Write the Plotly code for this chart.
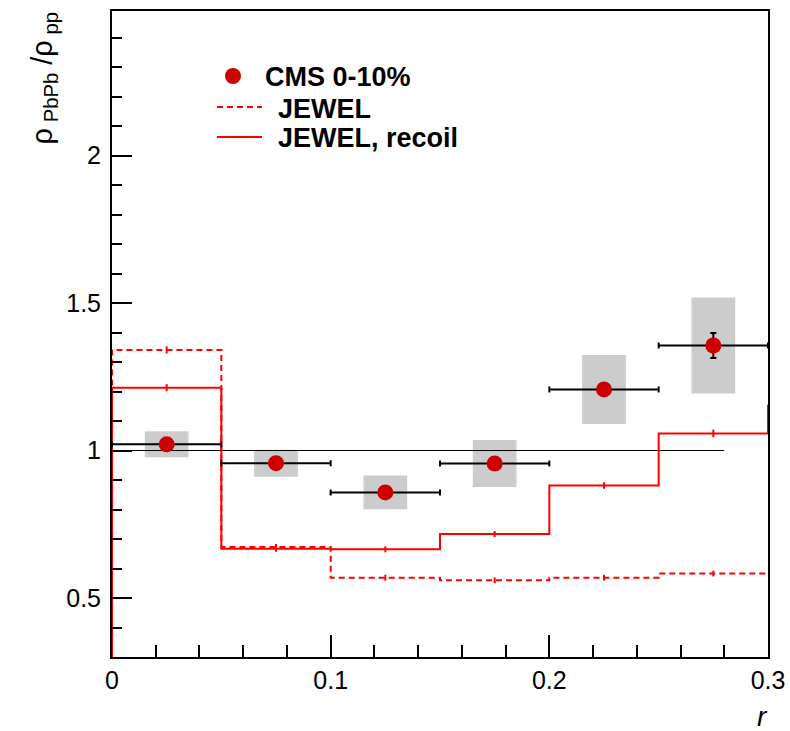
import plotly.graph_objects as go

# ---- data ----
r_centers = [0.025, 0.075, 0.125, 0.175, 0.225, 0.275]
r_halfwidth = [0.025] * 6
cms_ratio = [1.021, 0.957, 0.858, 0.956, 1.207, 1.356]
cms_stat = [0.010, 0.010, 0.010, 0.010, 0.012, 0.042]
cms_sys = [0.044, 0.046, 0.057, 0.080, 0.117, 0.163]
sys_box_width = 0.02

bin_edges = [0.0, 0.05, 0.10, 0.15, 0.20, 0.25, 0.30]
jewel = [1.341, 0.673, 0.569, 0.560, 0.569, 0.583]
jewel_err = [0.012, 0.010, 0.010, 0.010, 0.010, 0.010]
jewel_next = 0.583
jewel_recoil = [1.213, 0.667, 0.665, 0.717, 0.881, 1.058]
jewel_recoil_err = [0.012, 0.010, 0.010, 0.010, 0.011, 0.013]
jewel_recoil_next = 1.155

ref_x = [0.0, 0.28]
ref_y = [1.0, 1.0]

x_range = [0.0, 0.3]
y_range = [0.3, 2.49]

RED = "#ff0000"
DARKRED = "#cc0000"
FONT = "Liberation Sans, Arial, Helvetica, sans-serif"

W, H = 790, 731
ML, MR, MT, MB = 112, 22, 11, 74
PW, PH = W - ML - MR, H - MT - MB


def px(xp):
    return (xp - ML) / PW


def py(yp):
    return (H - MB - yp) / PH


def step_path(edges, vals, nxt, floor):
    xs = [edges[0]] + list(edges)
    ys = [floor] + list(vals) + [nxt]
    return xs, ys


fig = go.Figure()

# reference line at 1
fig.add_trace(go.Scatter(x=ref_x, y=ref_y, mode="lines",
                         line=dict(color="black", width=1), showlegend=False,
                         hoverinfo="skip"))

# systematic boxes
fig.add_trace(go.Bar(x=r_centers, y=[2 * s for s in cms_sys],
                     base=[v - s for v, s in zip(cms_ratio, cms_sys)],
                     width=sys_box_width, marker=dict(color="#cccccc", line=dict(width=0)),
                     showlegend=False, hoverinfo="skip"))

# JEWEL dashed
xs, ys = step_path(bin_edges, jewel, jewel_next, 0.0)
fig.add_trace(go.Scatter(x=xs, y=ys, mode="lines", line_shape="hv",
                         line=dict(color=RED, width=2, dash="6px,4px"),
                         showlegend=False, hoverinfo="skip"))
centers_h = [(a + b) / 2 for a, b in zip(bin_edges[:-1], bin_edges[1:])]
fig.add_trace(go.Scatter(x=centers_h, y=jewel, mode="markers",
                         marker=dict(size=0.1, color=RED, opacity=0),
                         error_y=dict(type="data", array=jewel_err, color=RED,
                                      thickness=2, width=0),
                         showlegend=False, hoverinfo="skip"))

# JEWEL recoil solid
xs, ys = step_path(bin_edges, jewel_recoil, jewel_recoil_next, 0.0)
fig.add_trace(go.Scatter(x=xs, y=ys, mode="lines", line_shape="hv",
                         line=dict(color=RED, width=2),
                         showlegend=False, hoverinfo="skip"))
fig.add_trace(go.Scatter(x=centers_h, y=jewel_recoil, mode="markers",
                         marker=dict(size=0.1, color=RED, opacity=0),
                         error_y=dict(type="data", array=jewel_recoil_err, color=RED,
                                      thickness=2, width=0),
                         showlegend=False, hoverinfo="skip"))

# CMS data
fig.add_trace(go.Scatter(x=r_centers, y=cms_ratio, mode="markers",
                         marker=dict(size=16, color=DARKRED, line=dict(width=0)),
                         error_x=dict(type="data", array=r_halfwidth, color="black",
                                      thickness=2, width=3),
                         error_y=dict(type="data", array=cms_stat, color="black",
                                      thickness=2, width=3),
                         showlegend=False, hoverinfo="skip"))

# ---- manual legend ----
shapes = [
    dict(type="circle", xref="paper", yref="paper",
         x0=px(233 - 8), x1=px(233 + 8), y0=py(76 + 8), y1=py(76 - 8),
         fillcolor=DARKRED, line=dict(width=0)),
    dict(type="line", xref="paper", yref="paper",
         x0=px(217), x1=px(262), y0=py(107), y1=py(107),
         line=dict(color=RED, width=2, dash="6px,4px")),
    dict(type="line", xref="paper", yref="paper",
         x0=px(217), x1=px(262), y0=py(137), y1=py(137),
         line=dict(color=RED, width=2)),
]
legend_font = dict(family=FONT, size=27, color="black", weight="bold")
annotations = [
    dict(text="CMS 0-10%", x=px(263), y=py(77), xref="paper", yref="paper",
         xanchor="left", yanchor="middle", showarrow=False, font=legend_font),
    dict(text="JEWEL", x=px(276), y=py(109), xref="paper", yref="paper",
         xanchor="left", yanchor="middle", showarrow=False, font=legend_font),
    dict(text="JEWEL, recoil", x=px(276), y=py(138), xref="paper", yref="paper",
         xanchor="left", yanchor="middle", showarrow=False, font=legend_font),
    # axis titles
    dict(text="<i>r</i>", x=px(770), y=py(716), xref="paper", yref="paper",
         xanchor="right", yanchor="middle", showarrow=False,
         font=dict(family=FONT, size=28, color="black")),
    dict(text="ρ<sub> PbPb</sub> /ρ<sub> pp</sub>", x=px(44), y=py(10),
         xref="paper", yref="paper", xanchor="center", yanchor="top",
         textangle=-90, showarrow=False,
         font=dict(family=FONT, size=29, color="black")),
]

fig.update_layout(
    width=W, height=H,
    margin=dict(l=ML, r=MR, t=MT, b=MB, pad=0, autoexpand=False),
    paper_bgcolor="white", plot_bgcolor="white",
    showlegend=False,
    barmode="overlay",
    shapes=shapes,
    annotations=annotations,
    font=dict(family=FONT, size=25, color="black"),
)

fig.update_xaxes(range=x_range, showgrid=False, zeroline=False, automargin=False,
                 showline=True, linecolor="black", linewidth=2, mirror=True,
                 ticks="inside", ticklen=22, tickwidth=2, tickcolor="black",
                 tick0=0, dtick=0.1, tickfont=dict(size=25),
                 minor=dict(ticks="inside", ticklen=12, tickwidth=2,
                            tickcolor="black", dtick=0.02, showgrid=False))
fig.update_yaxes(range=y_range, showgrid=False, zeroline=False, automargin=False,
                 showline=True, linecolor="black", linewidth=2, mirror=True,
                 ticks="inside", ticklen=20, tickwidth=2, tickcolor="black",
                 tick0=0, dtick=0.5, tickfont=dict(size=25),
                 ticklabelstandoff=4,
                 minor=dict(ticks="inside", ticklen=10, tickwidth=2,
                            tickcolor="black", dtick=0.1, showgrid=False))

fig.write_html("out.html")
